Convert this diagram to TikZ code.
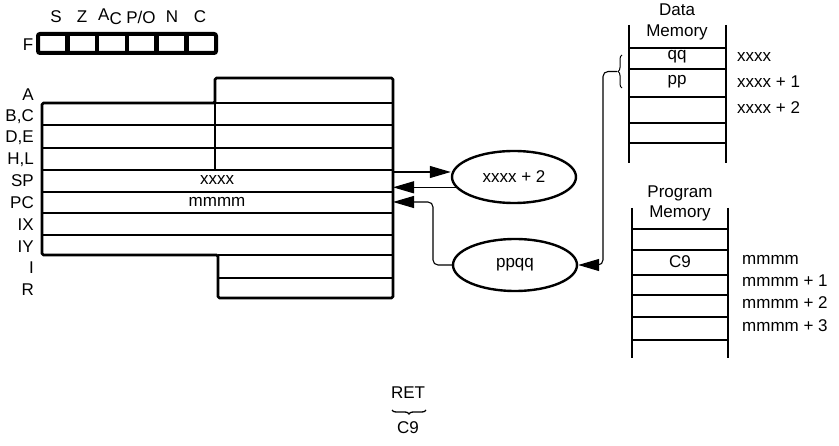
\documentclass[tikz,border=0pt]{standalone}
\usepackage{fontspec}
\setmainfont{Liberation Sans}
\usetikzlibrary{arrows.meta,shapes.geometric,decorations.pathreplacing}
\begin{document}
\begin{tikzpicture}[x=1pt,y=-1pt,
  font=\fontsize{17}{20}\selectfont,
  txt/.style={inner sep=0pt},
  reglbl/.style={inner sep=0pt,anchor=east},
  addr/.style={inner sep=0pt,anchor=west},
  regout/.style={line width=2.8pt,line join=round,rounded corners=1.5pt},
  rowline/.style={line width=2.1pt},
  flagbox/.style={line width=4pt,rounded corners=2pt},
  flagsep/.style={line width=4.5pt},
  rail/.style={line width=2.8pt},
  mline/.style={line width=2pt},
  oval/.style={ellipse,draw,line width=2.4pt,minimum width=124pt,minimum height=52pt,inner sep=0pt},
  arr/.style={line width=1.1pt,-{Triangle[length=21pt,width=12pt]}},
]
\useasboundingbox (0,0) rectangle (839,446);

% ---- Flag register ----
\draw[flagbox] (38,34) rectangle (216,53);
\foreach \x in {67.3,97.1,126.9,156.7,186.5} \draw[flagsep] (\x,34) -- (\x,53);
\node[txt] (lF) at (28,45) {F};
\node[txt] (fS) at (56,17) {S};
\node[txt] (fZ) at (82,17) {Z};
\node[txt] (fA) at (110,17) {A\raisebox{-4pt}{C}};
\node[txt] (fP) at (141,17) {P/O};
\node[txt] (fN) at (172,17) {N};
\node[txt] (fC) at (200,17) {C};

% ---- Register block ----
\draw[regout] (42,103) -- (215,103) -- (215,78) -- (393,78) -- (393,298)
  -- (218,298) -- (218,255) -- (42,255) -- cycle;
\draw[rowline] (215,103) -- (393,103);
\foreach \y in {125,148,170,192,213,235} \draw[rowline] (42,\y) -- (393,\y);
\draw[rowline] (215,103) -- (215,170);
\draw[rowline] (218,255) -- (393,255);
\draw[rowline] (218,278) -- (393,278);

\node[reglbl] (rA)  at (34,95)  {A};
\node[reglbl] (rBC) at (34,117) {B,C};
\node[reglbl] (rDE) at (34,138) {D,E};
\node[reglbl] (rHL) at (34,160) {H,L};
\node[reglbl] (rSP) at (34,181) {SP};
\node[reglbl] (rPC) at (34,203) {PC};
\node[reglbl] (rIX) at (34,225) {IX};
\node[reglbl] (rIY) at (34,247) {IY};
\node[reglbl] (rI)  at (34,268) {I};
\node[reglbl] (rR)  at (34,290) {R};

\node[txt] (spval) at (217,180) {xxxx};
\node[txt] (pcval) at (217,202) {mmmm};

% ---- Ovals ----
\node[oval] (xp2) at (514,177) {xxxx + 2};
\node[oval] (ppqq) at (515,265) {ppqq};

\coordinate (spout) at (393,172);
\coordinate (spin) at (393,187);
\coordinate (pcin) at (393,202);
\coordinate (bend) at (433,202);

\draw[arr] (spout) -- (spout -| xp2.west);
\draw[arr] (xp2.190) -- (xp2.190 -| spin);
\draw[arr,rounded corners=5pt] (ppqq.west) -| (bend) -- (pcin);

% ---- Data memory ----
\draw[rail] (629,25) -- (629,163);
\draw[rail] (726,25) -- (726,163);
\foreach \y in {48,69,97,123,143} \draw[mline] (629,\y) -- (726,\y);
\node[txt] (dmt1) at (677,10) {Data};
\node[txt] (dmt2) at (677,32) {Memory};
\node[txt] (qq) at (677,57) {qq};
\node[txt] (pp) at (677,82) {pp};
\node[addr] (da0) at (737,57) {xxxx};
\node[addr] (da1) at (737,82) {xxxx + 1};
\node[addr] (da2) at (737,108) {xxxx + 2};
\draw[line width=1pt,decorate,decoration={brace,amplitude=4pt}] (622,88) -- (622,55);
\coordinate (bracetip) at (617,71.5);
\draw[arr,rounded corners=5pt] (bracetip) -- (603,71.5) |- (ppqq.east);

% ---- Program memory ----
\draw[rail] (632,208) -- (632,358);
\draw[rail] (728,208) -- (728,358);
\foreach \y in {229,250,275,295,317,340} \draw[mline] (632,\y) -- (728,\y);
\node[txt] (pmt1) at (680,193) {Program};
\node[txt] (pmt2) at (680,213) {Memory};
\node[txt] (c9) at (680,262) {C9};
\node[addr] (pa0) at (742,260) {mmmm};
\node[addr] (pa1) at (742,281) {mmmm + 1};
\node[addr] (pa2) at (742,303) {mmmm + 2};
\node[addr] (pa3) at (742,326) {mmmm + 3};

% ---- Bottom ----
\node[txt] (ret) at (408,393) {RET};
\draw[line width=1.3pt,decorate,decoration={brace,amplitude=4pt,mirror}] (392,410) -- (426,410);
\node[txt] (retc9) at (408,428) {C9};
\end{tikzpicture}
\end{document}
